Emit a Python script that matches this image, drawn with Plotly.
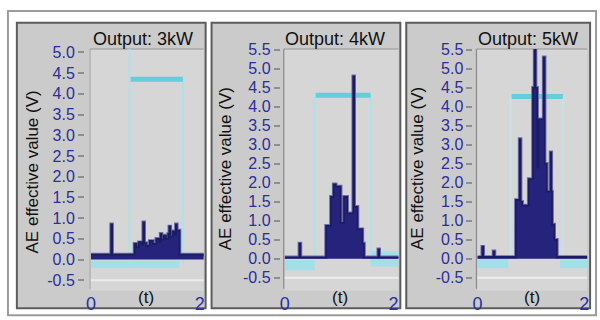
import plotly.graph_objects as go

# ---------------- data ----------------
panel_titles = ["Output: 3kW", "Output: 4kW", "Output: 5kW"]
y_title = "AE effective value (V)"
x_title = "(t)"
x_tick_vals = [0, 2]
x_tick_text = ["0", "2"]

# AE effective value envelopes (step-wise), one per output level
t_3kw = [0.00, 0.37, 0.39, 0.80, 0.84, 0.88, 0.94, 0.96, 0.98, 1.02, 1.08, 1.14, 1.20, 1.26,
         1.28, 1.30, 1.34, 1.38, 1.42, 1.44, 1.46, 1.50, 1.54, 1.56, 1.58, 1.63, 2.15]
v_3kw = [0.12, 0.85, 0.12, 0.38, 0.30, 0.42, 0.35, 0.90, 0.40, 0.33, 0.45, 0.38, 0.50, 0.42,
         0.62, 0.48, 0.58, 0.50, 0.62, 0.80, 0.55, 0.68, 0.60, 0.85, 0.70, 0.12, 0.12]

t_4kw = [0.00, 0.27, 0.29, 0.76, 0.85, 0.90, 0.94, 1.03, 1.09, 1.15, 1.26, 1.28, 1.34, 1.43,
         1.46, 1.72, 1.74, 2.15]
v_4kw = [0.04, 0.40, 0.04, 0.87, 1.63, 1.96, 1.90, 0.95, 1.63, 1.20, 4.80, 1.37, 0.78, 0.40,
         0.04, 0.25, 0.04, 0.04]

t_5kw = [0.00, 0.09, 0.11, 0.30, 0.32, 0.72, 0.79, 0.81, 0.84, 0.96, 1.04, 1.07, 1.09, 1.12,
         1.15, 1.24, 1.26, 1.30, 1.37, 1.385, 1.40, 1.44, 1.49, 2.15]
v_5kw = [0.05, 0.32, 0.05, 0.20, 0.05, 1.55, 3.15, 1.50, 1.40, 2.10, 4.50, 5.50, 4.50, 2.40,
         3.67, 5.30, 2.50, 1.77, 2.80, 1.77, 0.90, 0.50, 0.05, 0.05]

# laser pulse (cyan) per panel
pulse_on = [0.71, 0.55, 0.62]
pulse_off = [1.69, 1.58, 1.60]
pulse_level = [4.35, 4.30, 4.27]
pulse_low = [-0.10, 0.10, 0.00]
pulse_left_top = [5.10, 4.30, 4.27]

# cyan noise bands near zero: (start, end, low, high)
bands = [
    [(0.00, 1.62, -0.20, -0.03)],
    [(0.00, 0.55, -0.30, -0.03), (1.58, 2.15, -0.20, 0.20)],
    [(0.00, 0.58, -0.25, 0.00), (1.55, 2.15, -0.25, -0.03)],
]

y_max = [5.0, 5.5, 5.5]

signals = [(t_3kw, v_3kw), (t_4kw, v_4kw), (t_5kw, v_5kw)]

# ---------------- layout geometry (pixels) ----------------
W, H = 600, 320
panel_px = [(12, 203), (209, 400), (406, 592)]
plot_px = [(87, 201), (283, 398), (478, 589)]
px_per_unit_x = [55, 55, 54]
ytick_pos_px = [80, 278, 473]
ytitle_px = [(28, 168), (223, 165), (418, 165)]
title_px = [(140, 32), (334, 32), (529, 32)]
xt_px = [(143, 297), (339, 297), (533, 297)]
plot_top, plot_bot = 42, 290
y_ranges = [(-0.753, 5.082), (-0.84, 5.52), (-0.84, 5.52)]


def px(x):
    return x / W


def py(y):
    return 1 - y / H


BLUE = "#2d2d9b"
FONT = "Liberation Sans, Arial, sans-serif"

fig = go.Figure()
shapes = []
annotations = []

# outer frame
shapes.append(dict(type="rect", xref="paper", yref="paper", x0=px(3), x1=px(598),
                   y0=py(315), y1=py(3), line=dict(color="#9c9c9c", width=2),
                   fillcolor="rgba(0,0,0,0)", layer="below"))

for i in range(3):
    k = "" if i == 0 else str(i + 1)
    xa, ya = "x" + k, "y" + k
    # panel background + frame
    shapes.append(dict(type="rect", xref="paper", yref="paper",
                       x0=px(panel_px[i][0]), x1=px(panel_px[i][1]),
                       y0=py(308), y1=py(15), fillcolor="#cbcbcb",
                       line=dict(color="#5c5c5c", width=2), layer="below"))
    # plot area background
    shapes.append(dict(type="rect", xref="paper", yref="paper",
                       x0=px(plot_px[i][0]), x1=px(plot_px[i][1]),
                       y0=py(plot_bot), y1=py(plot_top), fillcolor="#d6d6d6",
                       line=dict(width=0), layer="below"))
    # plot top border
    shapes.append(dict(type="line", xref="paper", yref="paper",
                       x0=px(plot_px[i][0] - 1), x1=px(plot_px[i][1]),
                       y0=py(plot_top), y1=py(plot_top),
                       line=dict(color="#a9a9a9", width=1.5), layer="below"))
    # plot left border
    shapes.append(dict(type="line", xref="paper", yref="paper",
                       x0=px(plot_px[i][0] - 1), x1=px(plot_px[i][0] - 1),
                       y0=py(plot_bot - 2), y1=py(plot_top),
                       line=dict(color="#8c8c8c" if i else "#b0b0b0", width=1.2),
                       layer="below"))
    # whitish line at -0.5
    shapes.append(dict(type="line", xref=xa + " domain", yref=ya, x0=0, x1=1,
                       y0=-0.5, y1=-0.5, line=dict(color="#ededed", width=2),
                       layer="below"))

    # cyan noise bands
    for (b0, b1, lo, hi) in bands[i]:
        fig.add_trace(go.Scatter(x=[b0, b1, b1, b0, b0], y=[lo, lo, hi, hi, lo],
                                 mode="lines", fill="toself", fillcolor="#a3dfe7",
                                 line=dict(width=0), hoverinfo="skip",
                                 xaxis=xa, yaxis=ya, showlegend=False))
    # pulse verticals (thin) and level (thick)
    fig.add_trace(go.Scatter(
        x=[pulse_on[i], pulse_on[i], None, pulse_off[i], pulse_off[i]],
        y=[pulse_low[i], pulse_left_top[i], None, pulse_low[i], pulse_level[i]],
        mode="lines", line=dict(color="#ade2ea" if i < 2 else "#c6e3e7", width=2),
        xaxis=xa, yaxis=ya, showlegend=False, hoverinfo="skip"))
    fig.add_trace(go.Scatter(
        x=[pulse_on[i] + 0.02, pulse_off[i]], y=[pulse_level[i], pulse_level[i]],
        mode="lines", line=dict(color="#62cfdb", width=5),
        xaxis=xa, yaxis=ya, showlegend=False, hoverinfo="skip"))
    # AE signal: lavender halo, then dark body
    t, v = signals[i]
    fig.add_trace(go.Scatter(
        x=t, y=v, mode="lines", line=dict(color="#6e6cab", width=3.5, shape="hv"),
        xaxis=xa, yaxis=ya, showlegend=False, hoverinfo="skip"))
    fig.add_trace(go.Scatter(
        x=t, y=v, mode="lines", line=dict(color="#1b1b60", width=1.6, shape="hv"),
        fill="tozeroy", fillcolor="#25237c",
        xaxis=xa, yaxis=ya, showlegend=False, hoverinfo="skip"))

    rng_x = (plot_px[i][1] - plot_px[i][0]) / px_per_unit_x[i]
    fig.layout["xaxis" + k] = dict(
        domain=[px(plot_px[i][0]), px(plot_px[i][1])], range=[0, rng_x],
        anchor=ya, tickvals=x_tick_vals, ticktext=x_tick_text, ticks="",
        showgrid=False, zeroline=False, showline=False,
        tickfont=dict(family=FONT, size=18, color=BLUE))
    nt = int(round((y_max[i] + 0.5) / 0.5)) + 1
    yt = [round(-0.5 + 0.5 * j, 1) for j in range(nt)]
    fig.layout["yaxis" + k] = dict(
        domain=[py(plot_bot), py(plot_top)], range=list(y_ranges[i]),
        anchor="free", position=px(ytick_pos_px[i]),
        tickvals=yt, ticktext=[f"{y:.1f}" for y in yt],
        ticks="outside", ticklen=6, tickwidth=2, tickcolor="#8e8e8e",
        showgrid=False, zeroline=False, showline=False,
        tickfont=dict(family=FONT, size=16, color=BLUE))

    annotations.append(dict(text=y_title, xref="paper", yref="paper",
                            x=px(ytitle_px[i][0]), y=py(ytitle_px[i][1]),
                            textangle=-90, showarrow=False, xanchor="center", yanchor="middle",
                            font=dict(family=FONT, size=17, color="#111111")))
    annotations.append(dict(text=panel_titles[i], xref="paper", yref="paper",
                            x=px(title_px[i][0]), y=py(title_px[i][1]),
                            showarrow=False, xanchor="center", yanchor="middle",
                            font=dict(family=FONT, size=18, color="#111111")))
    annotations.append(dict(text=x_title, xref="paper", yref="paper",
                            x=px(xt_px[i][0]), y=py(xt_px[i][1]),
                            showarrow=False, xanchor="center", yanchor="middle",
                            font=dict(family=FONT, size=17, color="#111111")))

fig.update_layout(width=W, height=H, margin=dict(l=0, r=0, t=0, b=0),
                  paper_bgcolor="white", plot_bgcolor="#d6d6d6",
                  shapes=shapes, annotations=annotations, showlegend=False)

fig.write_html("out.html")
